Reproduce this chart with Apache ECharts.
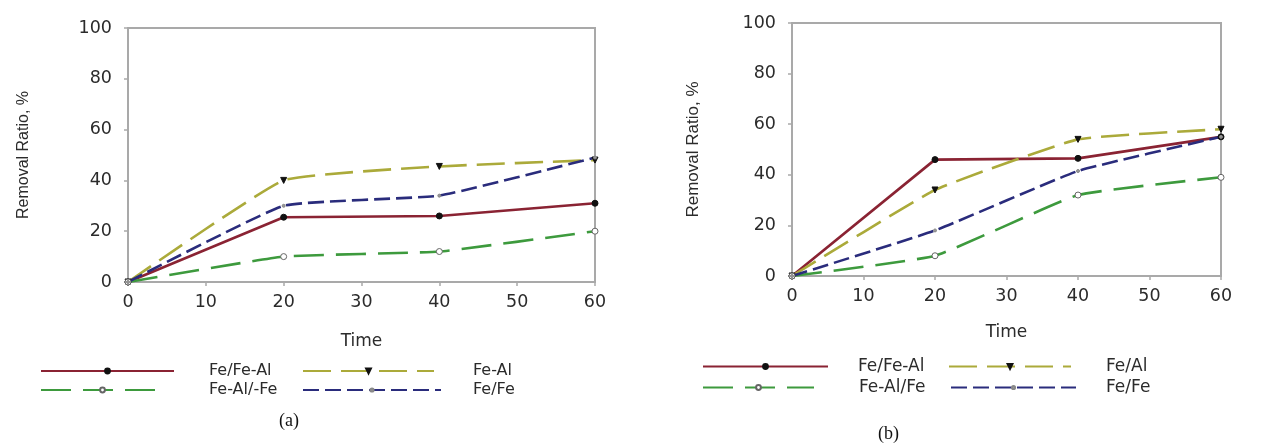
<!DOCTYPE html>
<html><head><meta charset="utf-8">
<script src="https://cdn.jsdelivr.net/npm/echarts@6/dist/echarts.min.js"></script>
<style>html,body{margin:0;padding:0;background:#fff}#c{width:1288px;height:443px}</style>
</head><body><div id="c"></div>
<script>
// ---- data ----
const timeTicks = [0, 10, 20, 30, 40, 50, 60];
const yTicks = [0, 20, 40, 60, 80, 100];
const timeA = [0, 20, 40, 60];
const feFeAlA = [0, 25.5, 26, 31];
const feAlA = [0, 40, 45.5, 48];
const feAlFeA = [0, 10, 12, 20];
const feFeA = [0, 30, 34, 49];
const timeB = [0, 20, 40, 60];
const feFeAlB = [0, 46, 46.5, 55];
const feAlB = [0, 34, 54, 58];
const feAlFeB = [0, 8, 32, 39];
const feFeB = [0, 18, 41.5, 55];
const namesA = ['Fe/Fe-Al', 'Fe-Al', 'Fe-Al/-Fe', 'Fe/Fe'];
const namesB = ['Fe/Fe-Al', 'Fe/Al', 'Fe-Al/Fe', 'Fe/Fe'];
const captions = ['(a)', '(b)'];
const axisNameX = 'Time';
const axisNameY = 'Removal Ratio, %';

// ---- styles ----
const TXT = '#2b2b2b';
const FRAME = '#a9a9a9';
const styles = [
  {color: '#8a2333', type: 'solid', symbol: 'circle', size: 6, mColor: '#111', mBorder: '#111', smooth: false},
  {color: '#abaa3a', type: [28, 10], symbol: 'triangle', rotate: 180, size: 6, mColor: '#111', mBorder: '#111', smooth: 0.12},
  {color: '#3d9a3d', type: [30, 12], symbol: 'circle', size: 6, mColor: '#fff', mBorder: '#666', smooth: 0.12},
  {color: '#2a2c7c', type: [16, 6], symbol: 'circle', size: 3, mColor: '#999', mBorder: '#888', smooth: 0.12}
];

function mkSeries(name, xs, ys, st, idx) {
  return {
    type: 'line', name: name, xAxisIndex: idx, yAxisIndex: idx,
    data: xs.map((x, i) => [x, ys[i]]),
    smooth: st.smooth,
    symbol: st.symbol, symbolSize: st.size, symbolRotate: st.rotate || 0,
    showAllSymbol: true,
    lineStyle: {color: st.color, width: 2.6, type: st.type},
    itemStyle: {color: st.mColor, borderColor: st.mBorder, borderWidth: 1},
    emphasis: {disabled: true},
    z: 3 - idx
  };
}

const series = [];
const dataA = [feFeAlA, feAlA, feAlFeA, feFeA];
const dataB = [feFeAlB, feAlB, feAlFeB, feFeB];
namesA.forEach((n, i) => series.push(mkSeries(n, timeA, dataA[i], styles[i], 0)));
namesB.forEach((n, i) => series.push(mkSeries(n, timeB, dataB[i], styles[i], 1)));

function mkLegend(name, left, top, w, pad, fs, ih) {
  return {
    data: [{name: name}], left: left, top: top, itemWidth: w, itemHeight: ih,
    padding: 0, selectedMode: false,
    textStyle: {fontFamily: 'DejaVu Sans', fontSize: fs, color: TXT, padding: [0, 0, 0, pad]}
  };
}
const legends = [
  mkLegend(namesA[0], 40, 363, 133, 30, 16, 6),
  mkLegend(namesA[1], 302, 363, 131, 34, 16, 6),
  mkLegend(namesA[2], 40, 382, 123, 40, 16, 6),
  mkLegend(namesA[3], 302, 382, 138, 27, 16, 4),
  mkLegend(namesB[0], 702, 358, 125, 25, 17, 6),
  mkLegend(namesB[1], 948, 358, 122, 30, 17, 6),
  mkLegend(namesB[2], 702, 379, 111, 40, 17, 6),
  mkLegend(namesB[3], 950, 379, 125, 25, 17, 4)
];

function mkX(idx, fs) {
  return {
    type: 'value', gridIndex: idx, min: timeTicks[0], max: timeTicks[timeTicks.length - 1], interval: 10,
    name: axisNameX, nameLocation: 'middle', nameGap: idx === 0 ? 51 : 48,
    nameTextStyle: {fontFamily: 'DejaVu Sans', fontSize: 17, color: TXT},
    axisLine: {show: true, lineStyle: {color: FRAME, width: 2}},
    axisTick: {show: true, length: 4, lineStyle: {color: FRAME, width: 1.5}},
    axisLabel: {fontFamily: 'DejaVu Sans', fontSize: fs, color: TXT, margin: 11},
    splitLine: {show: false}
  };
}
function mkY(idx, fs, gap) {
  return {
    type: 'value', gridIndex: idx, min: yTicks[0], max: yTicks[yTicks.length - 1], interval: 20,
    name: axisNameY, nameLocation: 'middle', nameGap: gap, nameRotate: 90,
    nameTextStyle: {fontFamily: 'Liberation Sans', fontSize: fs, color: TXT},
    axisLine: {show: true, lineStyle: {color: FRAME, width: 2}},
    axisTick: {show: true, length: 4, lineStyle: {color: FRAME, width: 1.5}},
    axisLabel: {fontFamily: 'DejaVu Sans', fontSize: 17.5, color: TXT, margin: 16},
    splitLine: {show: false}
  };
}

const option = {
  backgroundColor: '#fff',
  animation: false,
  grid: [
    {left: 128, top: 28, width: 467, height: 254, show: true, borderColor: FRAME, borderWidth: 2, containLabel: false},
    {left: 792, top: 23, width: 429, height: 253, show: true, borderColor: FRAME, borderWidth: 2, containLabel: false}
  ],
  xAxis: [mkX(0, 17.5), mkX(1, 17.5)],
  yAxis: [mkY(0, 16, 96), mkY(1, 17, 90)],
  legend: legends,
  series: series,
  graphic: [
    {type: 'text', left: 279, top: 412, style: {text: captions[0], font: '18px "Liberation Serif"', fill: '#111'}},
    {type: 'text', left: 878, top: 425, style: {text: captions[1], font: '18px "Liberation Serif"', fill: '#111'}}
  ]
};
const chart = echarts.init(document.getElementById('c'), null, {renderer: 'canvas'});
chart.setOption(option);
</script></body></html>
